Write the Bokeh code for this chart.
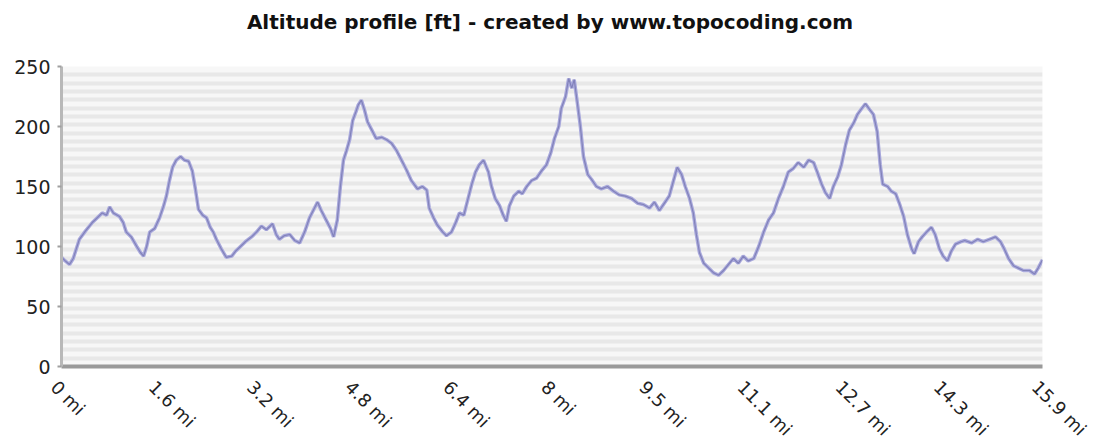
import math
from bokeh.plotting import figure
from bokeh.models import FixedTicker, Range1d
from bokeh.layouts import column, row
from bokeh.core.properties import value
from bokeh.embed import file_html
from bokeh.resources import INLINE

# ---- data ----
distance_mi = [
    0.00, 0.06, 0.13, 0.19, 0.29, 0.39, 0.50, 0.58, 0.66, 0.73, 0.78, 0.84, 0.94, 1.00,
    1.05, 1.13, 1.22, 1.28, 1.33, 1.38, 1.43, 1.51, 1.59, 1.65, 1.70, 1.75, 1.80, 1.86,
    1.93, 1.99, 2.06, 2.12, 2.17, 2.22, 2.29, 2.35, 2.41, 2.46, 2.51, 2.59, 2.67, 2.76,
    2.82, 2.88, 2.98, 3.08, 3.16, 3.24, 3.32, 3.42, 3.48, 3.53, 3.61, 3.70, 3.78, 3.86,
    3.94, 4.02, 4.08, 4.15, 4.21, 4.29, 4.36, 4.41, 4.47, 4.52, 4.57, 4.62, 4.67, 4.72,
    4.77, 4.81, 4.86, 4.91, 4.96, 5.02, 5.10, 5.19, 5.27, 5.35, 5.43, 5.51, 5.59, 5.67,
    5.77, 5.85, 5.92, 5.96, 6.03, 6.09, 6.18, 6.24, 6.32, 6.39, 6.45, 6.52, 6.58, 6.65,
    6.71, 6.77, 6.84, 6.92, 6.97, 7.03, 7.10, 7.16, 7.21, 7.26, 7.33, 7.41, 7.47, 7.54,
    7.62, 7.70, 7.78, 7.86, 7.93, 7.99, 8.06, 8.10, 8.17, 8.22, 8.27, 8.31, 8.36, 8.41,
    8.46, 8.53, 8.59, 8.67, 8.75, 8.85, 8.95, 9.04, 9.14, 9.24, 9.34, 9.43, 9.53, 9.61,
    9.69, 9.77, 9.85, 9.92, 9.98, 10.05, 10.11, 10.18, 10.24, 10.29, 10.34, 10.41, 10.49,
    10.57, 10.65, 10.73, 10.81, 10.89, 10.97, 11.05, 11.13, 11.22, 11.30, 11.38, 11.46,
    11.54, 11.62, 11.70, 11.78, 11.86, 11.94, 12.03, 12.11, 12.19, 12.25, 12.32, 12.38,
    12.45, 12.51, 12.58, 12.64, 12.71, 12.77, 12.84, 12.90, 12.97, 13.03, 13.10, 13.16,
    13.22, 13.27, 13.31, 13.39, 13.45, 13.52, 13.58, 13.65, 13.71, 13.78, 13.82, 13.89,
    13.95, 14.02, 14.10, 14.16, 14.23, 14.29, 14.36, 14.42, 14.49, 14.58, 14.64, 14.75,
    14.85, 14.94, 15.04, 15.14, 15.22, 15.28, 15.35, 15.43, 15.51, 15.59, 15.69, 15.77,
    15.83, 15.90,
]
altitude_ft = [
    91, 88, 85, 90, 106, 113, 120, 124, 128, 126, 133, 128, 125, 120,
    112, 108, 100, 95, 92, 100, 112, 115, 124, 133, 142, 155, 166, 172,
    175, 172, 171, 163, 148, 131, 126, 124, 116, 112, 106, 98, 91, 92,
    96, 99, 104, 108, 112, 117, 114, 119, 110, 106, 109, 110, 105, 103,
    112, 124, 130, 137, 130, 122, 115, 108, 122, 150, 172, 180, 189, 205,
    212, 218, 222, 214, 204, 198, 190, 191, 189, 186, 180, 172, 164, 155,
    148, 150, 147, 132, 124, 118, 112, 109, 112, 120, 128, 126, 138, 152,
    162, 168, 172, 162, 150, 140, 134, 126, 121, 134, 142, 146, 144, 150,
    155, 157, 163, 168, 178, 190, 200, 215, 225, 240, 232, 239, 220, 200,
    175, 160, 156, 150, 148, 150, 146, 143, 142, 140, 136, 135, 132, 137,
    130, 136, 142, 155, 166, 160, 150, 140, 128, 110, 95, 86, 82,
    78, 76, 80, 85, 90, 86, 92, 88, 90, 100, 112, 122,
    128, 140, 150, 162, 165, 170, 166, 172, 170, 162, 152, 145,
    140, 150, 158, 168, 185, 197, 203, 210, 215, 219, 214, 210,
    196, 168, 152, 150, 146, 144, 136, 125, 110, 98, 94, 104,
    108, 112, 116, 110, 98, 92, 88, 96, 102, 104, 105, 103,
    106, 104, 106, 108, 104, 98, 90, 84, 82, 80, 80, 77,
    82, 89,
]
x_ticks = [0, 1.59, 3.18, 4.77, 6.36, 7.95, 9.54, 11.13, 12.72, 14.31, 15.9]
x_tick_labels = ["0 mi", "1.6 mi", "3.2 mi", "4.8 mi", "6.4 mi", "8 mi",
                 "9.5 mi", "11.1 mi", "12.7 mi", "14.3 mi", "15.9 mi"]
y_ticks = [0, 50, 100, 150, 200, 250]
title_text = "Altitude profile [ft] - created by www.topocoding.com"

# ---- layout constants ----
X_MAX = 15.9
Y_MAX = 250
PAGE_W = 1100
FRAME_L, FRAME_W, FRAME_H = 61, 981, 300
TOP_H = 57          # strip holding the title
MAIN_TOP, MAIN_BOTTOM = 9, 10
LABEL_H = 65        # strip holding the rotated distance labels
PX_PER_MI = FRAME_W / X_MAX

common = dict(output_backend="svg", toolbar_location=None)

# ---- title strip ----
p_title = figure(width=PAGE_W, height=TOP_H, x_range=Range1d(0, PAGE_W),
                 y_range=Range1d(0, TOP_H), x_axis_type=None, y_axis_type=None,
                 min_border=0, **common)
p_title.outline_line_color = None
p_title.grid.visible = False
p_title.text(x=[FRAME_L + FRAME_W / 2 - 2], y=[TOP_H - 21], text=[title_text],
             text_align="center", text_baseline="middle",
             text_font=value("DejaVu Sans"), text_font_size=value("20px"),
             text_font_style="bold", text_color="#111111")

# ---- main chart ----
p = figure(width=FRAME_L + FRAME_W + 42, height=MAIN_TOP + FRAME_H + MAIN_BOTTOM,
           x_range=Range1d(0, X_MAX), y_range=Range1d(0, Y_MAX),
           min_border_left=FRAME_L, min_border_right=42,
           min_border_top=MAIN_TOP, min_border_bottom=MAIN_BOTTOM, **common)
p.outline_line_color = None
p.background_fill_color = "#f7f7f7"
p.border_fill_color = "white"

n_stripes = 36
stripe_ticks = [Y_MAX * i / n_stripes for i in range(n_stripes + 1)]
p.xgrid.visible = False
p.ygrid.ticker = FixedTicker(ticks=stripe_ticks)
p.ygrid.grid_line_color = "#e8e8e8"
p.ygrid.grid_line_width = 4

p.xaxis.ticker = FixedTicker(ticks=[])
p.xaxis.axis_line_color = "#9a9a9a"
p.xaxis.axis_line_width = 4
p.xaxis.major_tick_out = 0
p.xaxis.major_tick_in = 0
p.xaxis.major_label_standoff = 0
p.xaxis.major_tick_line_color = None
p.xaxis.minor_tick_line_color = None

p.yaxis.ticker = FixedTicker(ticks=y_ticks)
p.yaxis.axis_line_color = "#b8b8b8"
p.yaxis.axis_line_width = 3
p.yaxis.major_tick_line_color = "#a0a0a0"
p.yaxis.major_tick_line_width = 2
p.yaxis.major_tick_out = 4
p.yaxis.major_tick_in = 0
p.yaxis.minor_tick_line_color = None
p.yaxis.major_label_text_font = "DejaVu Sans"
p.yaxis.major_label_text_font_size = "19px"
p.yaxis.major_label_text_color = "#222222"
p.yaxis.major_label_standoff = 7

p.line(distance_mi, altitude_ft, line_color="#a9a9dc", line_width=3.5)
p.line(distance_mi, altitude_ft, line_color="#8282ba", line_width=1.2)

# ---- rotated distance labels strip (same mile scale as the chart) ----
p_lab = figure(width=PAGE_W, height=LABEL_H,
               x_range=Range1d(-FRAME_L / PX_PER_MI, (PAGE_W - FRAME_L) / PX_PER_MI),
               y_range=Range1d(-LABEL_H, 0), x_axis_type=None, y_axis_type=None,
               min_border=0, **common)
p_lab.outline_line_color = None
p_lab.grid.visible = False
p_lab.text(x=x_ticks, y=[0] * len(x_ticks), text=x_tick_labels,
           angle=-math.pi / 4, text_align="left", text_baseline="top",
           text_font=value("DejaVu Sans"), text_font_size=value("18px"),
           text_color="#222222")

layout = column(row(p_title), row(p), row(p_lab), spacing=0)
open("out.html", "w").write(file_html(layout, INLINE))
